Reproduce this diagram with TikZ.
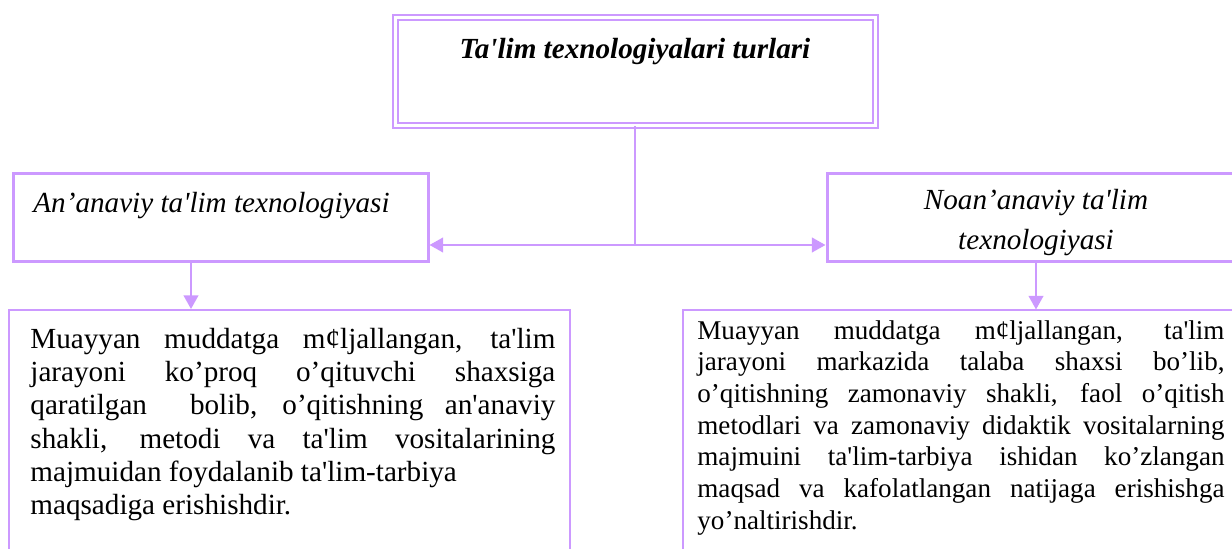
\documentclass[tikz,border=0pt]{standalone}
\usepackage{fontspec}
\setmainfont{Liberation Serif}
\usetikzlibrary{arrows.meta}
\definecolor{lilac}{HTML}{CC99FF}
\newcommand{\apos}{\textquotesingle}
\hyphenpenalty=10000
\exhyphenpenalty=10000
\tolerance=10000
\tikzset{
  headbox/.style={draw=lilac, line width=0.96pt, double=white, double distance=1.44pt, rectangle, inner sep=0pt},
  typebox/.style={draw=lilac, line width=1.44pt, rectangle, inner sep=0pt},
  textbox/.style={draw=lilac, line width=0.96pt, rectangle, inner sep=0pt},
  link/.style={draw=lilac, line width=0.96pt},
  arr/.style={link, -{Triangle[length=6.5pt,width=7pt]}},
  bodytext/.style={inner sep=0pt, anchor=north west, align=justify},
}

\begin{document}
\begin{tikzpicture}[x=0.48pt, y=-0.48pt]
		%%%%% START %%%%%
		\useasboundingbox (0,0) rectangle (1232,549);
		\clip (0,0) rectangle (1232,549);
		
		% boxes
		\node[headbox, minimum width=230.16pt, minimum height=51.84pt] (tbox) at (635.25,71.5) {};
		\node[typebox, minimum width=198.96pt, minimum height=42.24pt] (lbox) at (220.75,217.5) {};
		\node[typebox, minimum width=200.64pt, minimum height=42.24pt] (rbox) at (1036,218) {};
		\node[textbox, minimum width=269.28pt, minimum height=129.6pt] (lbody) at (289.5,445) {};
		\node[textbox, minimum width=339.36pt, minimum height=129.6pt] (rbody) at (1036.5,445.5) {};
		
		% titles
		\node[anchor=base, inner sep=0pt, font=\bfseries\itshape\fontsize{14pt}{16pt}\selectfont]
		      (ttitle) at (635,59) {Ta\apos lim texnologiyalari turlari};
		\node[anchor=base west, inner sep=0pt, font=\itshape\fontsize{14pt}{16pt}\selectfont]
		      (ltitle) at (33,213) {An’anaviy ta\apos lim texnologiyasi};
		\node[inner sep=0pt, align=center, font=\itshape\fontsize{14pt}{16pt}\selectfont]
		      (rtitle) at (1036,222.5) {Noan’anaviy ta\apos lim\\[3pt]texnologiyasi};
		
		% texts
		\node[bodytext, text width=252pt, font=\fontsize{14pt}{15.9pt}\selectfont]
		      (ltext) at (30,328) {Muayyan muddatga m¢ljallangan, ta\apos lim\linebreak
		      jarayoni ko’proq o’qituvchi shaxsiga\linebreak
		      qaratilgan\ \ bolib, o’qitishning an\apos anaviy\linebreak
		      shakli, metodi va ta\apos lim vositalarining\linebreak
		      majmuidan foydalanib ta\apos lim-tarbiya\newline
		      maqsadiga erishishdir.};
		\node[bodytext, text width=253pt, font=\fontsize{13pt}{15.2pt}\selectfont]
		      (rtext) at (697,320) {Muayyan muddatga m¢ljallangan, ta\apos lim\linebreak
		      jarayoni markazida talaba shaxsi bo’lib,\linebreak
		      o’qitishning zamonaviy shakli, faol o’qitish\linebreak
		      metodlari va zamonaviy didaktik vositalarning\linebreak
		      majmuini ta\apos lim-tarbiya ishidan ko’zlangan\linebreak
		      maqsad va kafolatlangan natijaga erishishga\linebreak
		      yo’naltirishdir.};
		
		% connectors
		\coordinate (hub) at (635.25,245);
		\coordinate (ldrop) at (191,0);
		\draw[link] (tbox.south) -- (hub);
		\draw[arr] (hub) -- (hub -| lbox.east);
		\draw[arr] (hub) -- (hub -| rbox.west);
		\draw[arr] (lbox.south -| ldrop) -- (lbody.north -| ldrop);
		\draw[arr] (rbox.south) -- (rbox.south |- rbody.north);
		
		%%%%% END %%%%%
\end{tikzpicture}
\end{document}
